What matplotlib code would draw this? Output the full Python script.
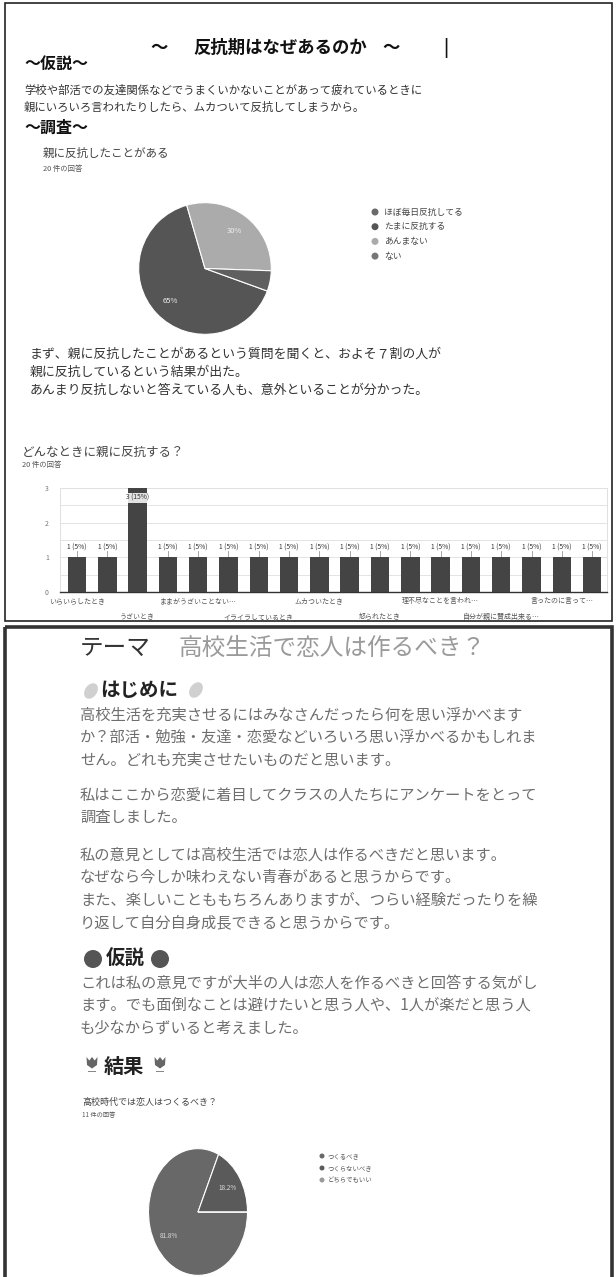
import matplotlib
matplotlib.use('Agg')
import matplotlib.pyplot as plt
from matplotlib.patches import Rectangle, Ellipse, Circle, Polygon
import numpy as np

plt.rcParams['font.family'] = ['Noto Sans CJK JP', 'DejaVu Sans']

W, H = 616, 1277
DPI = 100

# ---------------- data ----------------
pie1_title = '親に反抗したことがある'
pie1_sub = '20 件の回答'
pie1_labels = ['ほぼ毎日反抗してる', 'たまに反抗する', 'あんまない', 'ない']
pie1_counts = [0, 13, 6, 1]
pie1_colors = ['#6a6a6a', '#555555', '#ababab', '#5f5f5f']
pie1_legend_colors = ['#6a6a6a', '#555555', '#ababab', '#777777']

bar_title = 'どんなときに親に反抗する？'
bar_sub = '20 件の回答'
bar_counts = [1, 1, 3, 1, 1, 1, 1, 1, 1, 1, 1, 1, 1, 1, 1, 1, 1, 1]
bar_total = 20
bar_tick_labels = ['いらいらしたとき', 'うざいとき', 'ままがうざいことない…',
                   'イライラしているとき', 'ムカついたとき', '怒られたとき',
                   '理不尽なことを言われ…', '自分が親に賛成出来る…', '言ったのに言って…']
bar_yticks = [0, 1, 2, 3]

pie2_title = '高校時代では恋人はつくるべき？'
pie2_sub = '11 件の回答'
pie2_labels = ['つくるべき', 'つくらないべき', 'どちらでもいい']
pie2_counts = [9, 2, 0]
pie2_colors = ['#686868', '#5a5a5a', '#9a9a9a']

title1_parts = ['～', '反抗期はなぜあるのか', '～', '|']
hyp1_lines = ['学校や部活での友達関係などでうまくいかないことがあって疲れているときに',
              '親にいろいろ言われたりしたら、ムカついて反抗してしまうから。']
res1_lines = ['まず、親に反抗したことがあるという質問を聞くと、およそ７割の人が',
              '親に反抗しているという結果が出た。',
              'あんまり反抗しないと答えている人も、意外といることが分かった。']

para1 = ['高校生活を充実させるにはみなさんだったら何を思い浮かべます',
         'か？部活・勉強・友達・恋愛などいろいろ思い浮かべるかもしれま',
         'せん。どれも充実させたいものだと思います。']
para2 = ['私はここから恋愛に着目してクラスの人たちにアンケートをとって',
         '調査しました。']
para3 = ['私の意見としては高校生活では恋人は作るべきだと思います。',
         'なぜなら今しか味わえない青春があると思うからです。',
         'また、楽しいことももちろんありますが、つらい経験だったりを繰',
         'り返して自分自身成長できると思うからです。']
para4 = ['これは私の意見ですが大半の人は恋人を作るべきと回答する気がし',
         'ます。でも面倒なことは避けたいと思う人や、1人が楽だと思う人',
         'も少なからずいると考えました。']

# ---------------- figure ----------------
fig = plt.figure(figsize=(W / DPI, H / DPI), dpi=DPI)
fig.patch.set_facecolor('white')

bg = fig.add_axes([0, 0, 1, 1])
bg.set_xlim(0, W)
bg.set_ylim(H, 0)
bg.axis('off')


def add_ax(x0, y0, x1, y1):
    return fig.add_axes([x0 / W, 1 - y1 / H, (x1 - x0) / W, (y1 - y0) / H])


def T(x, y, s, size, color='#333333', weight='normal', ha='left'):
    bg.text(x, y, s, fontsize=size, color=color, fontweight=weight,
            ha=ha, va='center')


# panel borders
bg.add_patch(Rectangle((5, 3), 607, 618, fill=False, ec='#222222', lw=1.2))
bg.add_patch(Rectangle((5, 627), 607, 660, fill=False, ec='#333333', lw=2.6))

# ---------- panel 1 ----------
for x, s in zip([150, 193, 382, 443], title1_parts):
    T(x, 48, s, 12.5, '#111111', 'bold')
T(24, 64, '～仮説～', 11.5, '#111111', 'bold')
for i, s in enumerate(hyp1_lines):
    T(24, 90 + 17 * i, s, 8.2, '#333333')
T(24, 128, '～調査～', 11.5, '#111111', 'bold')
T(43, 153, pie1_title, 8.3, '#444444')
T(43, 169, pie1_sub, 5.3, '#555555')

pax = add_ax(138, 202, 272, 335)
pax.pie(pie1_counts, colors=pie1_colors, startangle=-20, counterclock=False,
        autopct=lambda p: f'{p:.0f}%' if p >= 10 else '', pctdistance=0.72,
        wedgeprops=dict(edgecolor='white', linewidth=0.8),
        textprops=dict(color='#eeeeee', fontsize=5.5))
pax.set_aspect('auto')
pax.set_xlim(-1.01, 1.01)
pax.set_ylim(-1.01, 1.01)

for i, (lab, c) in enumerate(zip(pie1_labels, pie1_legend_colors)):
    y = 212 + 14.7 * i
    bg.add_patch(Circle((375, y), 3.5, fc=c, ec='none'))
    T(384, y, lab, 6.3, '#444444')

for i, s in enumerate(res1_lines):
    T(30, 354 + 18 * i, s, 9.3, '#333333')

T(22, 452, bar_title, 9.0, '#444444')
T(22, 465, bar_sub, 5.3, '#555555')

bax = add_ax(60, 488, 607, 592)
xs = np.arange(len(bar_counts))
bax.bar(xs, bar_counts, width=0.61, color='#444444', zorder=3)
bax.set_xlim(-0.56, len(bar_counts) - 0.51)
bax.set_ylim(0, 3)
bax.set_yticks(bar_yticks)
bax.set_yticks(np.arange(0, 3.01, 0.5), minor=True)
bax.grid(True, which='both', axis='y', color='#e4e4e4', lw=0.7, zorder=0)
bax.tick_params(axis='y', which='both', length=0, labelsize=5, labelcolor='#777777', pad=8)
bax.set_xticks([])
for sp in ['left', 'right', 'top']:
    bax.spines[sp].set_color('#e0e0e0')
    bax.spines[sp].set_linewidth(0.7)
bax.spines['bottom'].set_color('#333333')
bax.spines['bottom'].set_linewidth(1.0)
vmax = max(bar_counts)
for i, v in enumerate(bar_counts):
    lab = f'{v} ({round(v / bar_total * 100)}%)'
    if v < vmax:
        bax.plot([i, i], [v, v + 0.17], color='#999999', lw=0.6, zorder=2)
        bax.text(i, v + 0.28, lab, ha='center', va='center', fontsize=4.8, color='#333333', zorder=4)
    else:
        bax.text(i, v - 0.29, lab, ha='center', va='center', fontsize=4.8, color='#333333', zorder=4,
                 bbox=dict(fc='white', ec='none', pad=0.5, alpha=0.85))
for k, lab in enumerate(bar_tick_labels):
    xi = 2 * k
    yo = -0.09 if k % 2 == 0 else -0.24
    bax.text(xi, yo, lab, transform=bax.get_xaxis_transform(), ha='center', va='center',
             fontsize=5, color='#555555', clip_on=False)

# ---------- panel 2 ----------
T(80, 648, 'テーマ', 17, '#333333')
T(178, 648, '高校生活で恋人は作るべき？', 17, '#9a9a9a')

bg.add_patch(Ellipse((91, 691), 12, 17, angle=35, fc='#d0d0d0', ec='none'))
T(100, 691, 'はじめに', 14, '#222222', 'bold')
bg.add_patch(Ellipse((196, 690), 12, 17, angle=35, fc='#d0d0d0', ec='none'))

body_c = '#6e6e6e'
LS = 22.5
for i, s in enumerate(para1):
    T(80, 715 + LS * i, s, 11, body_c)
for i, s in enumerate(para2):
    T(80, 795 + LS * i, s, 11, body_c)
for i, s in enumerate(para3):
    T(80, 855 + LS * i, s, 11, body_c)

bg.add_patch(Circle((93, 959), 9, fc='#555555', ec='none'))
T(106, 959, '仮説', 14, '#222222', 'bold')
bg.add_patch(Circle((160, 959), 9, fc='#555555', ec='none'))
for i, s in enumerate(para4):
    T(80, 983 + LS * i, s, 11, body_c)


def tulip(cx, cy):
    pts = [(-5.5, -7), (-2.7, -3.5), (0, -7), (2.7, -3.5), (5.5, -7), (5, 1), (0, 4.5), (-5, 1)]
    bg.add_patch(Polygon([(cx + a, cy + b) for a, b in pts], closed=True, fc='#666666', ec='none'))
    bg.add_patch(Rectangle((cx - 4, cy + 6.5), 8, 1.3, fc='#888888', ec='none'))


tulip(92, 1064)
T(104, 1066, '結果', 14.5, '#222222', 'bold')
tulip(160, 1064)

T(82, 1102, pie2_title, 6.5, '#444444')
T(82, 1115, pie2_sub, 4.5, '#555555')

pax2 = add_ax(148, 1148, 248, 1276)
pax2.pie(pie2_counts, colors=pie2_colors, startangle=0, counterclock=False,
         autopct=lambda p: f'{p:.1f}%' if p > 0 else '', pctdistance=0.7,
         wedgeprops=dict(edgecolor='white', linewidth=0.8),
         textprops=dict(color='#dddddd', fontsize=4.6))
pax2.set_aspect('auto')
pax2.set_xlim(-1.01, 1.01)
pax2.set_ylim(-1.01, 1.01)

for i, (lab, c) in enumerate(zip(pie2_labels, pie2_colors)):
    y = 1156 + 12 * i
    bg.add_patch(Circle((322, y), 2.5, fc=c, ec='none'))
    T(328, y, lab, 4.6, '#555555')

fig.savefig('out.png', dpi=DPI, facecolor='white')
